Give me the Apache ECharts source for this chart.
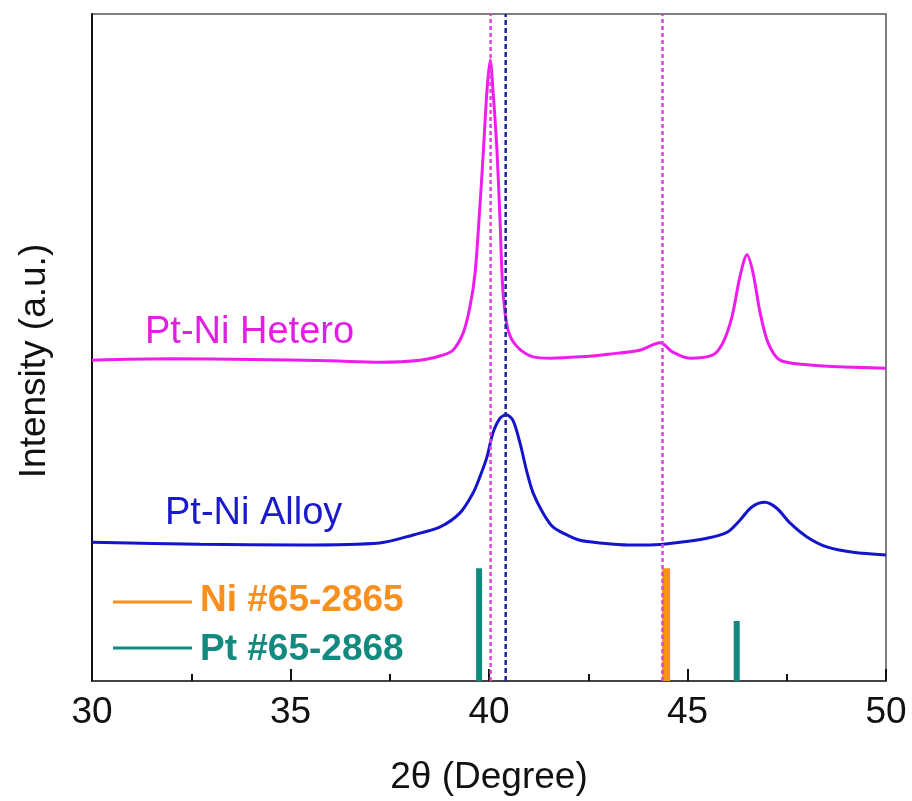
<!DOCTYPE html>
<html lang="en">
<head>
    <meta charset="UTF-8">
    <title>XRD Pt-Ni</title>
    <script src="https://cdn.jsdelivr.net/npm/echarts@6/dist/echarts.min.js"></script>
    <style>
        html, body { margin: 0; padding: 0; background: #fff; }
    </style>
</head>
<body>
<div id="main" style="width: 912px;height:801px;"></div>
<script type="text/javascript">
    // 2theta / intensity pairs
    var heteroX = [30.00, 32.00, 34.00, 36.00, 37.25, 38.26, 38.80, 39.09, 39.35, 39.52, 39.65, 39.77, 39.85, 39.95,
        40.03, 40.10, 40.20, 40.28, 40.35, 40.48, 40.71, 41.11, 41.54, 42.30, 43.00, 43.80, 44.31, 44.63, 45.06,
        45.64, 45.89, 46.12, 46.32, 46.50, 46.65, 46.83, 47.03, 47.33, 48.01, 48.84, 50.00];
    var heteroY = [48.1, 48.3, 48.2, 48.0, 47.8, 48.1, 48.8, 49.6, 52.2, 56.1, 61.2, 71.1, 78.6, 88.6,
        93.1, 88.6, 79.6, 68.7, 58.6, 52.6, 50.1, 48.6, 48.4, 48.6, 49.0, 49.6, 50.7, 49.3, 48.4,
        48.9, 50.7, 54.6, 60.6, 63.9, 61.2, 55.2, 50.7, 48.1, 47.4, 47.1, 46.9];

    var alloyX = [30.00, 32.72, 35.24, 37.25, 38.09, 38.77, 39.27, 39.60, 39.77, 39.95, 40.10, 40.28, 40.43, 40.60,
        40.78, 40.96, 41.11, 41.36, 41.61, 41.96, 42.29, 42.80, 43.50, 44.06, 44.81, 45.49, 46.00, 46.32,
        46.62, 46.95, 47.25, 47.58, 48.01, 48.51, 49.17, 50.00];
    var alloyY = [20.8, 20.5, 20.4, 20.7, 21.9, 23.1, 25.2, 28.2, 30.6, 33.6, 37.2, 39.4, 39.9, 39.1,
        35.7, 31.2, 28.2, 25.2, 23.1, 21.9, 21.1, 20.7, 20.4, 20.4, 20.8, 21.4, 22.3, 24.1,
        26.1, 26.8, 25.9, 23.7, 21.6, 20.1, 19.3, 18.9];

    // reference cards (stick patterns)
    var niPos = [44.46];
    var niInt = [16.9];
    var ptPos = [39.75, 46.24];
    var ptInt = [16.9, 9.0];

    // guide lines
    var magentaGuides = [40.04, 44.37];
    var blueGuides = [40.42];

    var xTicks = [30, 35, 40, 45, 50];

    function pairs(xs, ys) {
        var out = [];
        for (var i = 0; i < xs.length; i++) out.push([xs[i], ys[i]]);
        return out;
    }

    var font = "'Liberation Sans', Arial, sans-serif";
    var series = [];

    series.push({
        name: 'Pt-Ni Hetero', type: 'line', data: pairs(heteroX, heteroY),
        smooth: 0.3, symbol: 'none', z: 3,
        lineStyle: { color: '#ee1cee', width: 3 }
    });
    series.push({
        name: 'Pt-Ni Alloy', type: 'line', data: pairs(alloyX, alloyY),
        smooth: 0.3, symbol: 'none', z: 3,
        lineStyle: { color: '#1414cc', width: 3 }
    });

    // sticks
    for (var i = 0; i < ptPos.length; i++) {
        series.push({
            type: 'line', symbol: 'none', z: 4, silent: true,
            data: [[ptPos[i], 0], [ptPos[i], ptInt[i]]],
            lineStyle: { color: '#138a80', width: 6, cap: 'butt' }
        });
    }
    for (var j = 0; j < niPos.length; j++) {
        series.push({
            type: 'line', symbol: 'none', z: 4, silent: true,
            data: [[niPos[j], 0], [niPos[j], niInt[j]]],
            lineStyle: { color: '#f7901e', width: 8, cap: 'butt' }
        });
    }

    // dashed guides
    for (var k = 0; k < magentaGuides.length; k++) {
        series.push({
            type: 'line', symbol: 'none', z: 5, silent: true,
            data: [[magentaGuides[k], 0], [magentaGuides[k], 100]],
            lineStyle: { color: '#dd44dd', width: 2.5, type: [4, 3] }
        });
    }
    for (var m = 0; m < blueGuides.length; m++) {
        series.push({
            type: 'line', symbol: 'none', z: 5, silent: true,
            data: [[blueGuides[m], 0], [blueGuides[m], 100]],
            lineStyle: { color: '#1c2a8c', width: 2.5, type: [5, 3] }
        });
    }

    var myChart = echarts.init(document.getElementById('main'));
    myChart.setOption({
        animation: false,
        grid: {
            left: 92, right: 26, top: 14, bottom: 120,
            show: true, borderColor: '#555', borderWidth: 1.5
        },
        xAxis: {
            type: 'value', min: 30, max: 50, interval: 5,
            name: '2\u03b8 (Degree)', nameLocation: 'middle', nameGap: 78,
            nameTextStyle: { fontSize: 37, color: '#111', fontFamily: font },
            axisLine: { show: true, lineStyle: { color: '#444', width: 2 } },
            axisTick: { show: true, inside: true, length: 12, lineStyle: { color: '#111', width: 2 } },
            minorTick: { show: true, splitNumber: 2, length: 7, lineStyle: { color: '#111', width: 2 } },
            axisLabel: {
                fontSize: 37, color: '#111', fontFamily: font, margin: 13,
                formatter: function (v) { return xTicks.indexOf(v) >= 0 ? String(v) : ''; }
            },
            splitLine: { show: false }
        },
        yAxis: {
            type: 'value', min: 0, max: 100,
            axisLine: { show: true, lineStyle: { color: '#111', width: 2 } },
            axisTick: { show: false },
            axisLabel: { show: false },
            splitLine: { show: false }
        },
        graphic: [
            {
                type: 'text', x: 35, y: 361, rotation: Math.PI / 2,
                style: { text: 'Intensity (a.u.)', fontSize: 37, fontFamily: font, fill: '#111',
                    textAlign: 'center', textVerticalAlign: 'middle' }
            },
            {
                type: 'text', x: 145, y: 333,
                style: { text: 'Pt-Ni Hetero', fontSize: 38, fontFamily: font, fill: '#e020e0',
                    textAlign: 'left', textVerticalAlign: 'middle' }
            },
            {
                type: 'text', x: 165, y: 514,
                style: { text: 'Pt-Ni Alloy', fontSize: 38, fontFamily: font, fill: '#1a1acc',
                    textAlign: 'left', textVerticalAlign: 'middle' }
            },
            {
                type: 'line', shape: { x1: 113, y1: 602, x2: 192, y2: 602 },
                style: { stroke: '#f7901e', lineWidth: 3 }
            },
            {
                type: 'text', x: 200, y: 601,
                style: { text: 'Ni #65-2865', fontSize: 37, fontWeight: 'bold', fontFamily: font, fill: '#f7901e',
                    textAlign: 'left', textVerticalAlign: 'middle' }
            },
            {
                type: 'line', shape: { x1: 113, y1: 648, x2: 192, y2: 648 },
                style: { stroke: '#138a80', lineWidth: 3 }
            },
            {
                type: 'text', x: 200, y: 650,
                style: { text: 'Pt #65-2868', fontSize: 37, fontWeight: 'bold', fontFamily: font, fill: '#138a80',
                    textAlign: 'left', textVerticalAlign: 'middle' }
            }
        ],
        series: series
    });
</script>
</body>
</html>
